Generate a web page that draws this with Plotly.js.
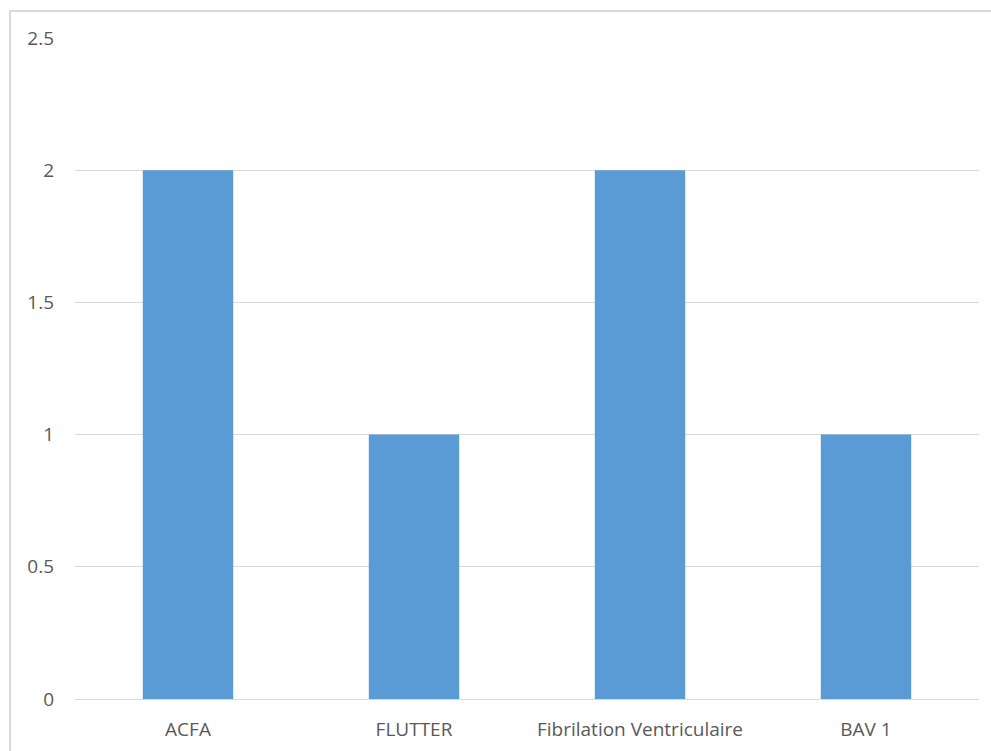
<!DOCTYPE html>
<html><head><meta charset="utf-8">
<script src="https://cdn.plot.ly/plotly-3.0.1.min.js"></script>
<style>html,body{margin:0;padding:0;background:#fff;overflow:hidden}
#chart{width:991px;height:751px;position:relative}
#frame{position:absolute;left:9px;top:10px;width:2000px;height:2000px;border-left:2px solid #d9d9d9;border-top:2px solid #d9d9d9;pointer-events:none}</style>
</head><body><div id="chart"></div><div id="frame"></div>
<script>
const categories = ["ACFA", "FLUTTER", "Fibrilation Ventriculaire", "BAV 1"];
const values = [2, 1, 2, 1];
const yTicks = [0, 0.5, 1, 1.5, 2, 2.5];

const trace = {
  type: 'bar', x: categories, y: values,
  marker: {color: '#5B9BD5'}, hoverinfo: 'x+y'
};
const layout = {
  width: 991, height: 751,
  margin: {l: 75, r: 12, t: 38, b: 52},
  paper_bgcolor: '#fff', plot_bgcolor: '#fff',
  bargap: 0.6, showlegend: false,
  font: {family: '"Open Sans", sans-serif', size: 19, color: '#595959'},
  xaxis: {showgrid: false, showline: true, linecolor: '#d9d9d9', linewidth: 1,
          ticks: '', ticklabelstandoff: 13, tickfont: {size: 19, color: '#595959'}},
  yaxis: {range: [0, 2.5], tickvals: yTicks, ticktext: yTicks.map(String),
          showgrid: true, gridcolor: '#d9d9d9', gridwidth: 1, zeroline: false,
          showline: false, ticks: '', ticklabelstandoff: 20,
          tickfont: {size: 19, color: '#595959'}}
};
Plotly.newPlot('chart', [trace], layout, {displayModeBar: false, staticPlot: true});
</script></body></html>
